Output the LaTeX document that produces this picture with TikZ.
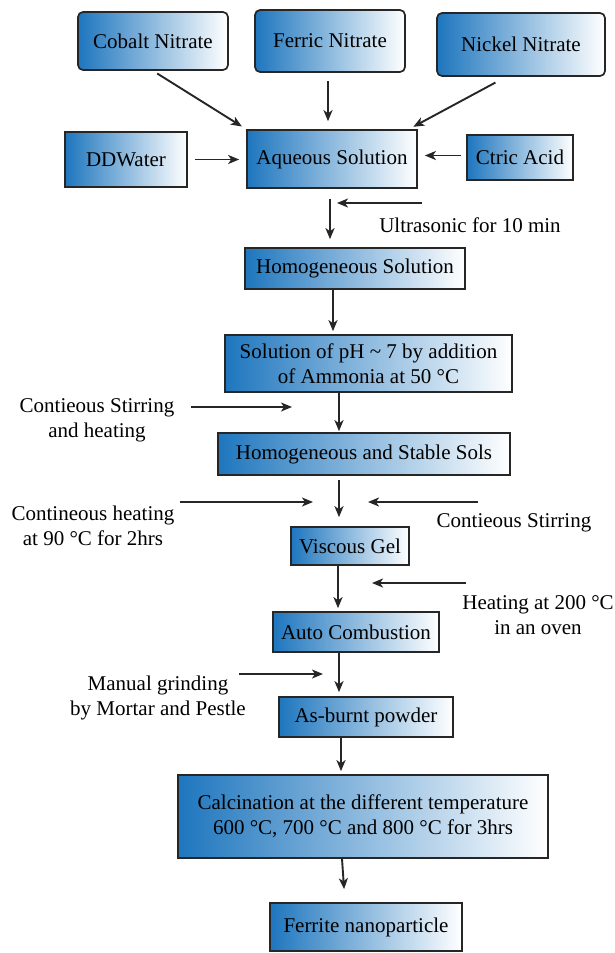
\documentclass[tikz,border=0pt]{standalone}
\usepackage{fontspec}
\setmainfont{Liberation Serif}
\usetikzlibrary{arrows.meta}
\definecolor{boxblue}{RGB}{30,118,190}

\begin{document}
\begin{tikzpicture}[x=1pt, y=-1pt, >={Stealth[length=11pt,width=9pt,inset=3pt]},
    flowbox/.style={draw=black!85, line width=1.7pt, left color=boxblue, right color=white,
                    inner sep=0pt, align=center, font=\fontsize{21}{25}\selectfont},
    topbox/.style={flowbox, rounded corners=5pt},
    note/.style={align=center, inner sep=0pt, font=\fontsize{21}{25}\selectfont},
    flow/.style={->, line width=1.9pt, black!85}]
    \useasboundingbox (0,0) rectangle (614,953);

    % nitrates on top
    \node[topbox, minimum width=150pt, minimum height=58pt] (cobalt) at (153,41) {Cobalt Nitrate};
    \node[topbox, minimum width=150pt, minimum height=62pt] (ferric) at (330,41) {Ferric Nitrate};
    \node[topbox, minimum width=168pt, minimum height=63pt] (nickel) at (521,44.5) {Nickel Nitrate};

    % water, solution, acid
    \node[flowbox, minimum width=122pt, minimum height=55pt] (water) at (126,159.5) {DDWater};
    \node[flowbox, minimum width=170pt, minimum height=58pt] (aqueous) at (332,159) {Aqueous Solution};
    \node[flowbox, minimum width=106pt, minimum height=45pt] (acid) at (520,157.5) {Ctric Acid};

    % main column
    \node[flowbox, minimum width=220pt, minimum height=41pt] (homsol) at (355,268.5) {Homogeneous Solution};
    \node[flowbox, minimum width=287pt, minimum height=57pt] (ph) at (368.5,363.5) {Solution of pH \textasciitilde{} 7 by addition\\of Ammonia at 50 °C};
    \node[flowbox, minimum width=292pt, minimum height=42pt] (sols) at (364,454) {Homogeneous and Stable Sols};
    \node[flowbox, minimum width=118pt, minimum height=38pt] (gel) at (350,546) {Viscous Gel};
    \node[flowbox, minimum width=166pt, minimum height=40pt] (combust) at (356,632) {Auto Combustion};
    \node[flowbox, minimum width=174pt, minimum height=40pt] (powder) at (366,717) {As-burnt powder};
    \node[flowbox, minimum width=370pt, minimum height=83pt] (calcine) at (363,816.5) {Calcination at the different temperature\\600 °C, 700 °C and 800 °C for 3hrs};
    \node[flowbox, minimum width=192pt, minimum height=48pt] (ferrite) at (366,927) {Ferrite nanoparticle};

    % side notes
    \node[note] (ultra) at (470,225) {Ultrasonic for 10 min};
    \node[note] (stirheat) at (97,420.5) {Contieous Stirring\\and heating};
    \node[note] (heat90) at (93,525.5) {Contineous heating\\at 90 °C for 2hrs};
    \node[note] (stir) at (514,523) {Contieous Stirring};
    \node[note] (oven) at (538,615.5) {Heating at 200 °C\\in an oven};
    \node[note] (grind) at (158,697.5) {Manual grinding\\by Mortar and Pestle};

    % nitrates to aqueous
    \draw[flow, shorten <=5pt, shorten >=5pt] (cobalt.south) -- (aqueous.north west);
    \draw[flow, shorten <=8pt, shorten >=8pt] ([xshift=-2pt]ferric.south) -- ([xshift=-2pt]ferric.south |- aqueous.north);
    \draw[flow, shorten <=12pt, shorten >=5pt] ([xshift=-15pt]nickel.south) -- ([xshift=-9pt]aqueous.north east);

    % water and acid to aqueous
    \draw[flow, shorten <=7pt, shorten >=7pt] (water.east) -- (water.east -| aqueous.west);
    \draw[flow, shorten <=5pt, shorten >=7pt] ([yshift=2pt]acid.west) -- ([yshift=2pt]acid.west -| aqueous.east);

    % aqueous to homogeneous, ultrasonic
    \draw[flow, shorten <=10pt, shorten >=8pt] ([xshift=-2pt]aqueous.south) -- ([xshift=-2pt]aqueous.south |- homsol.north);
    \coordinate (u1) at (422,203);
    \coordinate (u2) at (337,203);
    \draw[flow] (u1) -- (u2);

    % homogeneous to pH
    \draw[flow, shorten >=3pt] ([xshift=-22pt]homsol.south) -- ([xshift=-22pt]homsol.south |- ph.north);

    % pH to sols, stirring
    \draw[flow, shorten >=1pt] ([xshift=-29.5pt]ph.south) -- ([xshift=-29.5pt]ph.south |- sols.north);
    \coordinate (s1) at (191,407);
    \coordinate (s2) at (292,407);
    \draw[flow] (s1) -- (s2);

    % sols to gel, heating and stirring
    \draw[flow, shorten <=4pt, shorten >=9pt] ([xshift=-25pt]sols.south) -- ([xshift=-25pt]sols.south |- gel.north);
    \coordinate (h1) at (180,502);
    \coordinate (h2) at (313,502);
    \draw[flow] (h1) -- (h2);
    \coordinate (t1) at (478,502);
    \coordinate (t2) at (368,502);
    \draw[flow] (t1) -- (t2);

    % gel to combustion, oven
    \draw[flow, shorten >=3pt] ([xshift=-12pt]gel.south) -- ([xshift=-12pt]gel.south |- combust.north);
    \coordinate (o1) at (466,583);
    \coordinate (o2) at (372,583);
    \draw[flow] (o1) -- (o2);

    % combustion to powder, grinding
    \draw[flow, shorten >=4pt] ([xshift=-17pt]combust.south) -- ([xshift=-17pt]combust.south |- powder.north);
    \coordinate (g1) at (239,674);
    \coordinate (g2) at (323,674);
    \draw[flow] (g1) -- (g2);

    % powder to calcination to ferrite
    \draw[flow, shorten >=3pt] ([xshift=-25pt]powder.south) -- ([xshift=-25pt]powder.south |- calcine.north);
    \draw[flow, shorten >=13pt] ([xshift=-21pt]calcine.south) -- ([xshift=-18pt]calcine.south |- ferrite.north);
\end{tikzpicture}
\end{document}
